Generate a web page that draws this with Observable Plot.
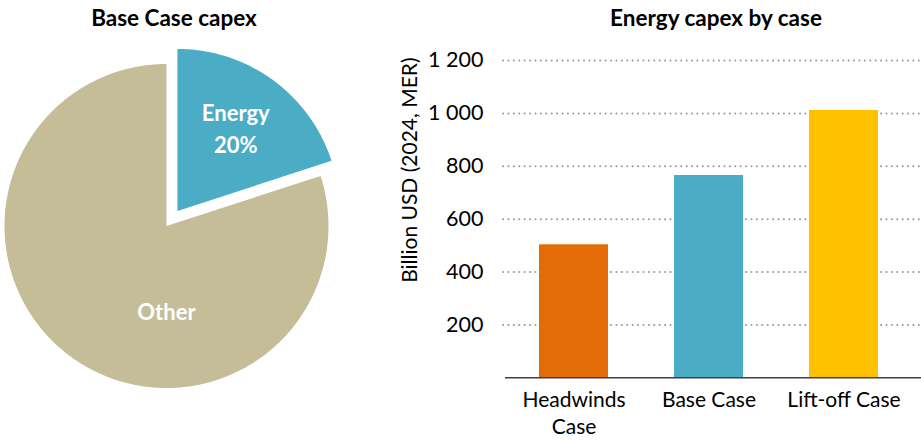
<!DOCTYPE html>
<html>
<head>
<meta charset="utf-8">
<script src="https://cdn.jsdelivr.net/npm/d3@7"></script>
<script src="https://cdn.jsdelivr.net/npm/@observablehq/plot@0.6"></script>
<style>
  body { margin: 0; background: #fff; }
  #root { position: relative; width: 921px; height: 440px; overflow: hidden; font-family: Lato, "Open Sans", sans-serif; }
  .title { position: absolute; top: 4px; font-weight: bold; font-size: 22.5px; line-height: 28px; color: #000; text-align: center; white-space: nowrap; }
  .panel { position: absolute; top: 0; }
</style>
</head>
<body>
<div id="root"></div>
<script>
// ---- Data ----
const pieTitle = "Base Case capex";
const pieSlices = ["Energy", "Other"];
const pieShares = [20, 80];
const pieColors = ["#4BACC6", "#C4BD97"];

const barTitle = "Energy capex by case";
const barCases = ["Headwinds\nCase", "Base Case", "Lift-off Case"];
const barValues = [503, 765, 1011];
const barColors = ["#E36C09", "#4BACC6", "#FFC000"];
const yTicks = [200, 400, 600, 800, 1000, 1200];
const yLabel = "Billion USD (2024, MER)";

const root = document.getElementById("root");
const fmt = d3.formatLocale({decimal: ".", thousands: "\u00a0", grouping: [3], currency: ["", ""]}).format(",d");
const fmtSpace = v => fmt(v).replace(/\u00a0/g, " ");

// ---- Pie ----
const R = 162, cxPx = 166, cyPx = 225.5, W1 = 340, H1 = 440;
const explode = 0.115;
const arcs = d3.pie().sort(null).value(d => d)(pieShares);
const piePts = [];
const pieLbl = [];
arcs.forEach((a, i) => {
  const name = pieSlices[i];
  const mid = (a.startAngle + a.endAngle) / 2;
  const off = i === 0 ? explode : 0;
  const ox = off * Math.sin(mid), oy = off * Math.cos(mid);
  piePts.push({slice: name, x: ox, y: oy});
  const n = Math.max(8, Math.ceil((a.endAngle - a.startAngle) / (Math.PI / 180)));
  for (let k = 0; k <= n; k++) {
    const t = a.startAngle + (a.endAngle - a.startAngle) * k / n;
    piePts.push({slice: name, x: ox + Math.sin(t), y: oy + Math.cos(t)});
  }
  piePts.push({slice: name, x: ox, y: oy});
  const la = i === 0 ? mid - 0.02 : Math.PI;
  const lr = i === 0 ? 0.63 : 0.52;
  const text = i === 0 ? `${name}\n${Math.round(100 * pieShares[i] / d3.sum(pieShares))}%` : name;
  pieLbl.push({x: ox + lr * Math.sin(la), y: oy + lr * Math.cos(la), text});
});

const pie = Plot.plot({
  width: W1, height: H1,
  margin: 0,
  x: {domain: [-cxPx / R, (W1 - cxPx) / R], axis: null},
  y: {domain: [-(H1 - cyPx) / R, cyPx / R], axis: null},
  color: {domain: pieSlices, range: pieColors},
  style: {fontFamily: "Lato, 'Open Sans', sans-serif", background: "transparent"},
  marks: [
    Plot.line(piePts, {x: "x", y: "y", z: "slice", fill: "slice", stroke: "none"}),
    Plot.text(pieLbl, {x: "x", y: "y", text: "text", fill: "white", fontWeight: "bold", fontSize: 22, lineHeight: 1.45})
  ]
});
pie.classList.add("panel");
pie.style.left = "0px";
root.appendChild(pie);

const t1 = document.createElement("div");
t1.className = "title"; t1.textContent = pieTitle;
t1.style.left = "0px"; t1.style.width = "348px";
root.appendChild(t1);

// ---- Bars ----
const W2 = 531;
const barData = barCases.map((c, i) => ({c, v: barValues[i], col: barColors[i]}));
const bars = Plot.plot({
  width: W2, height: H1,
  marginLeft: 115, marginRight: 9, marginTop: 60, marginBottom: 62.7,
  x: {domain: barCases, paddingInner: 0.49, paddingOuter: 0.245},
  y: {domain: [0, 1200]},
  style: {fontFamily: "Lato, 'Open Sans', sans-serif", fontSize: "21px", color: "#000", background: "transparent", overflow: "visible"},
  marks: [
    Plot.ruleY(yTicks, {stroke: "#9C9C9C", strokeWidth: 2, strokeDasharray: "0.1 5.3", strokeLinecap: "round", insetLeft: -2, insetRight: -9}),
    Plot.barY(barData, {x: "c", y: "v", fill: "col"}),
    Plot.ruleY([0], {stroke: "#404040", strokeWidth: 1.5, insetRight: -9}),
    Plot.axisY({ticks: yTicks, tickSize: 0, tickPadding: 22, tickFormat: fmtSpace, label: null, fontSize: 21.5, fill: "#000"}),
    Plot.axisX({tickSize: 0, tickPadding: 10, label: null, fontSize: 21, lineHeight: 1.3, fill: "#000"}),
    Plot.text([yLabel], {frameAnchor: "left", textAnchor: "middle", rotate: -90, dx: -95, dy: -49, fontSize: 21, fill: "#000"})
  ]
});
bars.classList.add("panel");
bars.style.left = "390px";
root.appendChild(bars);

const t2 = document.createElement("div");
t2.className = "title"; t2.textContent = barTitle;
t2.style.left = "606px"; t2.style.width = "220px";
root.appendChild(t2);
</script>
</body>
</html>
